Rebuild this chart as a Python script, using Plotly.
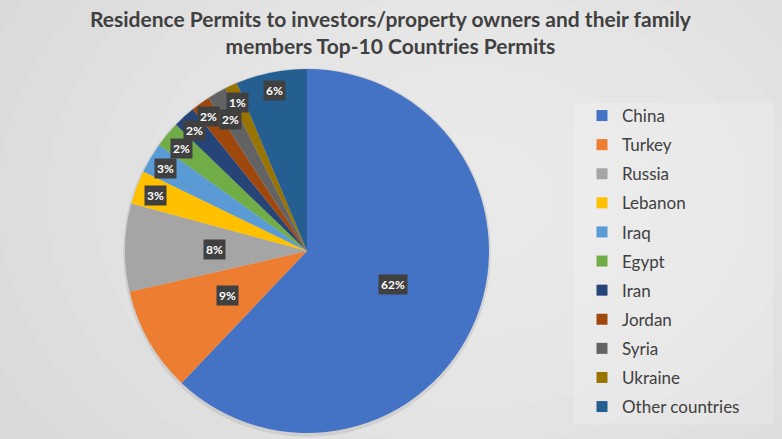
import math
import plotly.graph_objects as go

W = 782
H = 439

countries = ['China', 'Turkey', 'Russia', 'Lebanon', 'Iraq', 'Egypt',
             'Iran', 'Jordan', 'Syria', 'Ukraine', 'Other countries']
permits_share = [62.1, 9.3, 7.8, 3.0, 2.7, 2.3, 2.0, 1.7, 1.7, 1.1, 6.3]
colors = ['#4472C4', '#ED7D31', '#A5A5A5', '#FFC000', '#5B9BD5', '#70AD47',
          '#264478', '#9E480E', '#636363', '#997300', '#255E91']

# where the dark labels sit, as a fraction of the radius (excel "best fit" look)
LABEL_R = [0.5, 0.49, 0.5, 0.87, 0.89, 0.88, 0.9, 0.91, 0.83, 0.9, 0.9]

# pie centre / radius in pixels
CX, CY, R = 307, 251, 182

fig = go.Figure(go.Pie(
    labels=countries,
    values=permits_share,
    sort=False,
    direction='clockwise',
    rotation=0,
    marker=dict(colors=colors, line=dict(width=0)),
    textinfo='none',
    hoverinfo='label+percent',
    showlegend=False,
    domain=dict(x=[(CX - R) / W, (CX + R) / W],
                y=[(H - CY - R) / H, (H - CY + R) / H]),
))

# legend entries (own traces so the row spacing can be set with tracegroupgap)
for name, c in zip(countries, colors):
    fig.add_trace(go.Scatter(
        x=[None], y=[None], mode='markers', name=name, legendgroup=name,
        marker=dict(symbol='square', size=11, color=c),
    ))

# data labels: dark boxes like the excel chart
total = sum(permits_share)
cum = 0
annotations = []
for name, v, rf in zip(countries, permits_share, LABEL_R):
    mid = (cum + v / 2) / total * 2 * math.pi
    cum += v
    px_x = CX + rf * R * math.sin(mid) * 1.02
    px_y = CY - rf * R * math.cos(mid)
    annotations.append(dict(
        x=px_x / W, y=1 - px_y / H, xref='paper', yref='paper',
        xanchor='center', yanchor='middle',
        text='<b>%d%%</b>' % round(v / total * 100),
        showarrow=False,
        font=dict(family='Lato', size=12, color='white'),
        bgcolor='#404040', borderpad=2,
    ))

annotations.append(dict(
    x=0.5, y=1 - 4 / H, xref='paper', yref='paper', xanchor='center', yanchor='top',
    text='<b>Residence Permits to investors/property owners and their family<br>members Top-10 Countries Permits</b>',
    showarrow=False,
    font=dict(family='Lato', size=21, color='#404040'),
))

# soft radial background + legend panel + pie shadow
shapes = []
for i in range(10):
    rad = 520 - i * 48
    shapes.append(dict(type='circle', xref='paper', yref='paper', layer='below',
                       x0=(470 - rad) / W, x1=(470 + rad) / W,
                       y0=1 - (200 + rad * 0.75) / H, y1=1 - (200 - rad * 0.75) / H,
                       fillcolor='rgba(255,255,255,0.07)', line=dict(width=0)))
shapes.append(dict(type='rect', xref='paper', yref='paper', layer='below',
                   x0=573 / W, x1=773 / W, y0=1 - 424 / H, y1=1 - 103 / H,
                   fillcolor='rgba(255,255,255,0.18)', line=dict(width=0)))
shapes.append(dict(type='circle', xref='paper', yref='paper', layer='below',
                   x0=(CX - R - 2) / W, x1=(CX + R + 2) / W,
                   y0=1 - (CY + R + 4) / H, y1=1 - (CY - R - 1) / H,
                   fillcolor='rgba(0,0,0,0.08)', line=dict(width=0)))

fig.update_layout(
    width=W,
    height=H,
    margin=dict(l=0, r=0, t=0, b=0),
    paper_bgcolor='#d9d9d9',
    plot_bgcolor='rgba(0,0,0,0)',
    font=dict(family='Lato', color='#404040'),
    xaxis=dict(visible=False),
    yaxis=dict(visible=False),
    showlegend=True,
    legend=dict(
        x=582 / W, xanchor='left', y=1 - 98 / H, yanchor='top',
        bgcolor='rgba(0,0,0,0)',
        font=dict(family='Lato', size=17, color='#404040'),
        traceorder='grouped', tracegroupgap=4,
    ),
    annotations=annotations,
    shapes=shapes,
)

fig.write_html("out.html", config={'displayModeBar': False},
               post_script="document.body.style.margin='0';")
